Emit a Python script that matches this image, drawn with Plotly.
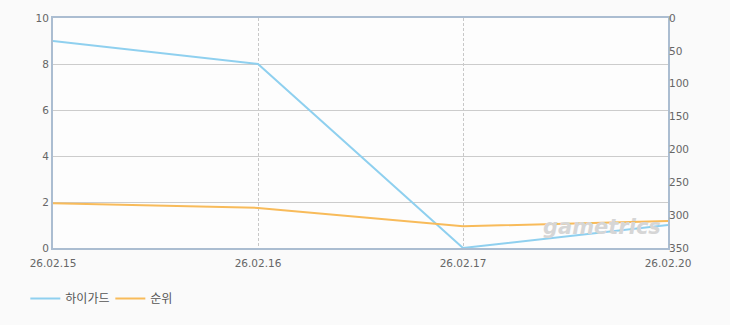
import plotly.graph_objects as go

dates = ["26.02.15", "26.02.16", "26.02.17", "26.02.20"]
hg_values = [9, 8, 0, 1]
rank_values = [282, 289, 317, 309]

fig = go.Figure()
fig.add_trace(go.Scatter(x=dates, y=hg_values, name="하이가드", mode="lines",
                         line=dict(color="#8fd0ef", width=2), yaxis="y"))
fig.add_trace(go.Scatter(x=dates, y=rank_values, name="순위", mode="lines",
                         line=dict(color="#f8bb5a", width=2), yaxis="y2"))

tickfont = dict(family="DejaVu Sans", size=10.5, color="#666666")
fig.update_layout(
    width=730, height=325,
    margin=dict(l=53, r=62, t=16, b=76),
    paper_bgcolor="#fafafa", plot_bgcolor="#fdfdfd",
    showlegend=True,
    legend=dict(orientation="h", x=-0.045, y=-0.22, xanchor="left", yanchor="middle",
                entrywidth=40, entrywidthmode="pixels",
                font=dict(family="Noto Sans CJK KR", size=12, color="#555555"),
                bgcolor="rgba(0,0,0,0)"),
    xaxis=dict(type="category", range=[0, 3], showline=True, linecolor="#abbdd1", linewidth=2,
               mirror=True, showgrid=True, gridcolor="#c8c8c8", griddash="3px,2px", gridwidth=1,
               tickfont=tickfont, ticks="", zeroline=False, ticklabelstandoff=4),
    yaxis=dict(range=[0, 10], dtick=2, showline=True, linecolor="#abbdd1", linewidth=2,
               mirror=True, showgrid=True, gridcolor="#cccccc", tickfont=tickfont,
               ticks="", zeroline=False),
    yaxis2=dict(range=[350, 0], dtick=50, overlaying="y", side="right", showgrid=False,
                tickfont=tickfont, ticks="", zeroline=False, showline=False),
)
fig.add_annotation(xref="paper", yref="paper", x=0.892, y=0.09, xanchor="center", yanchor="middle",
                   text="<b><i>gametrics</i></b>",
                   showarrow=False, font=dict(family="DejaVu Sans", size=21, color="#d6d6d6"))
fig.write_html("out.html")
